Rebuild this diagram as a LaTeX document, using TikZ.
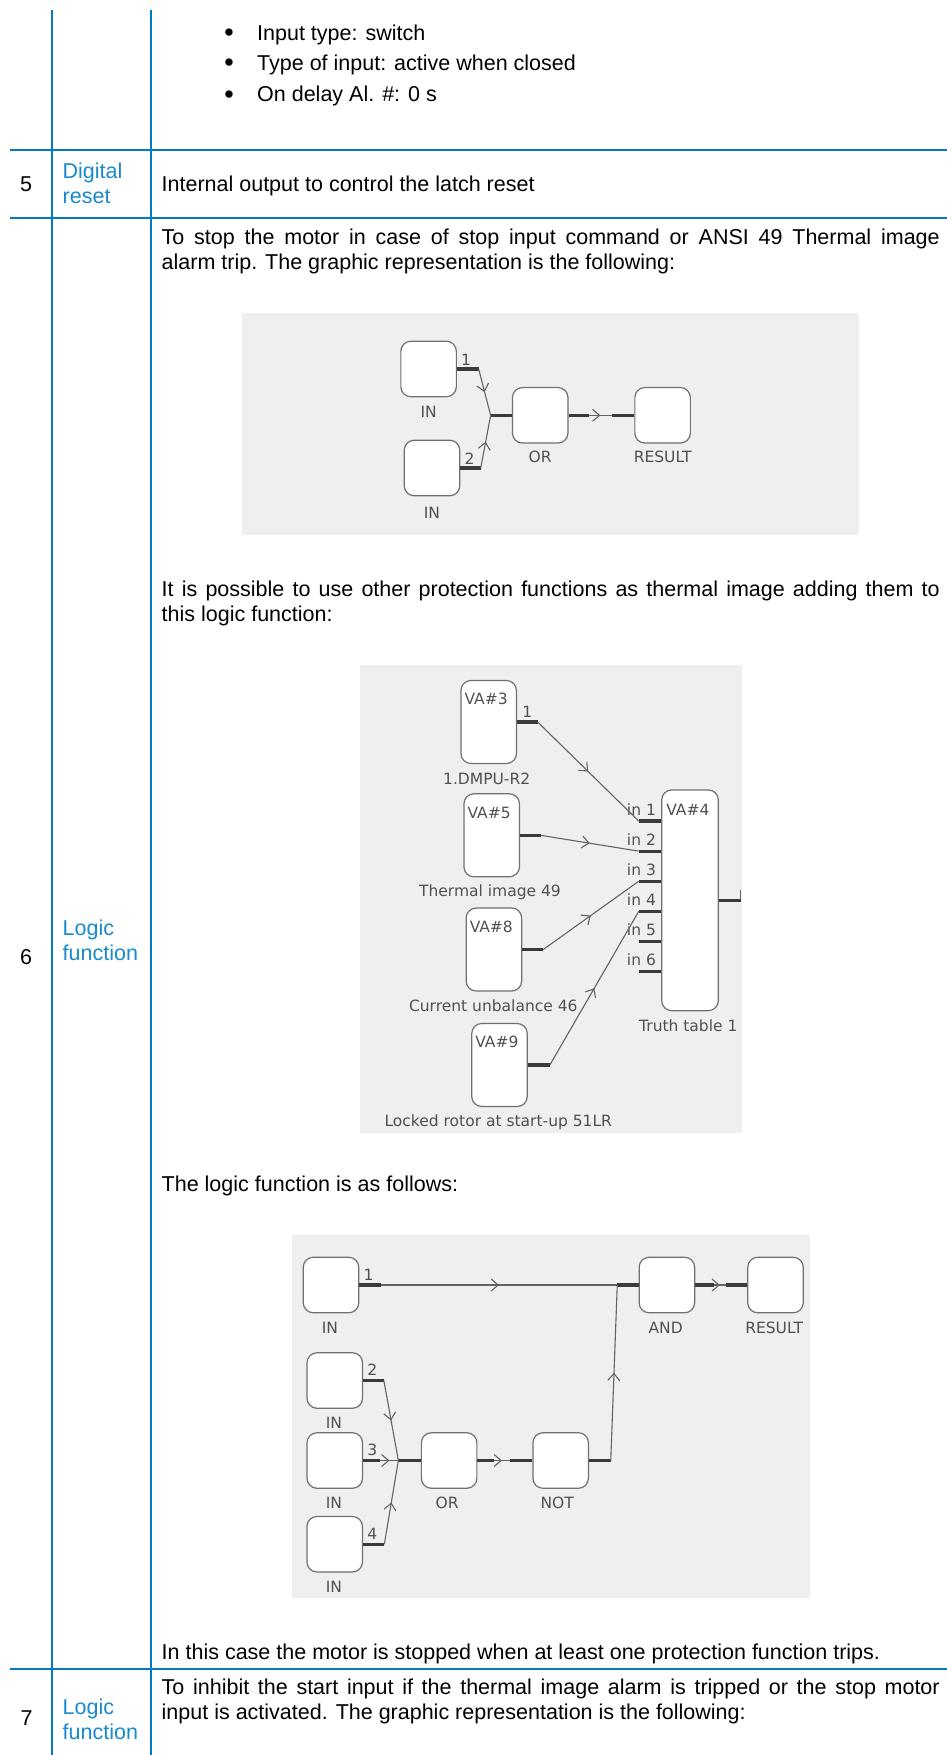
\documentclass[tikz,border=0pt]{standalone}
\usepackage{fontspec}
\setmainfont{Liberation Sans}
\newfontfamily\dejavu{DejaVu Sans}
\usepackage{xcolor}
\usetikzlibrary{arrows.meta,calc,decorations.markings}

\definecolor{tblue}{RGB}{0,122,192}
\definecolor{lblue}{RGB}{24,138,204}
\definecolor{panelgrey}{RGB}{239,239,239}
\definecolor{boxline}{RGB}{112,112,112}
\definecolor{stubgrey}{RGB}{58,58,58}
\definecolor{wiregrey}{RGB}{100,100,100}
\definecolor{capgrey}{RGB}{80,80,80}

\begin{document}
\begin{tikzpicture}[x=1pt, y=-1pt,
  tline/.style={draw=tblue, line width=2pt},
  body/.style={font=\fontsize{21.5}{25}\selectfont, inner sep=0pt, anchor=base west},
  para/.style={body, text width=778pt, align=justify},
  rowlbl/.style={body, text=lblue, text width=85pt, align=left},
  rownum/.style={font=\fontsize{21.5}{25}\selectfont, inner sep=0pt, anchor=base},
  dot/.style={body, anchor=base, font=\fontsize{27}{27}\selectfont},
  panel/.style={fill=panelgrey},
  blk/.style={draw=boxline, fill=white, rounded corners=10pt, line width=1.2pt, inner sep=0pt, minimum width=55.5pt, minimum height=55.5pt},
  vablk/.style={blk, minimum height=83pt},
  lbl/.style={font=\dejavu\fontsize{15.5}{17}\selectfont, text=capgrey, inner sep=0pt, anchor=base},
  numlbl/.style={lbl, anchor=base west},
  stub/.style={draw=stubgrey, line width=3.2pt},
  midarr/.style={decoration={markings, mark=at position 0.5 with {\arrow{Straight Barb[length=7pt,width=12pt]}}}, postaction={decorate}},
  wire/.style={draw=wiregrey, line width=1.1pt, midarr}
]
\useasboundingbox (0,0) rectangle (947,1755);

% table rules
\draw[tline] (51.7,10) -- (51.7,1755);
\draw[tline] (151,10) -- (151,1755);
\draw[tline] (10,150) -- (947,150);
\draw[tline] (10,218.3) -- (947,218.3);
\draw[tline] (10,1669) -- (947,1669);

% row 4 (end)
\node[dot] (b1) at (229,42) {•};
\node[body] (t1) at (257,40.5) {Input type: switch};
\node[dot] (b2) at (229,72) {•};
\node[body] (t2) at (257,70.5) {Type of input: active when closed};
\node[dot] (b3) at (229,103.5) {•};
\node[body] (t3) at (257,102) {On delay Al. \#: 0 s};

% row 5
\node[rownum] (n5) at (26,192) {5};
\node[rowlbl] (l5) at (62.5,178.5) {Digital\\reset};
\node[body] (t5) at (161.5,192) {Internal output to control the latch reset};

% row 6
\node[rownum] (n6) at (26,964) {6};
\node[rowlbl] (l6) at (62.5,935) {Logic\\function};
\node[para] (p6a) at (161.5,244) {To stop the motor in case of stop input command or ANSI 49 Thermal image\linebreak alarm trip. The graphic representation is the following:};
\node[para] (p6b) at (161.5,596) {It is possible to use other protection functions as thermal image adding them to\linebreak this logic function:};
\node[body] (p6c) at (161.5,1191) {The logic function is as follows:};
\node[body] (p6d) at (161.5,1659) {In this case the motor is stopped when at least one protection function trips.};

% diagram 1: OR of two inputs
\fill[panel] (242,313) rectangle (859,535);
\node[blk] (in1) at (428.6,369) {};
\node[blk] (in2) at (432,468) {};
\node[blk] (or1) at (540.2,415.3) {};
\node[blk] (res1) at (662.6,415.3) {};
\node[lbl] (in1c) at ($(in1.south)+(0,20)$) {IN};
\node[lbl] (in2c) at ($(in2.south)+(0,22)$) {IN};
\node[lbl] (or1c) at ($(or1.south)+(0,19)$) {OR};
\node[lbl] (res1c) at ($(res1.south)+(0,19)$) {RESULT};
\node[numlbl] (in1n) at ($(in1.east)+(4,-4)$) {1};
\node[numlbl] (in2n) at ($(in2.east)+(4,-4)$) {2};
\draw[stub] (in1.east) -- ++(21.7,0) coordinate (in1o);
\draw[stub] (in2.east) -- ++(20.4,0) coordinate (in2o);
\draw[stub] (or1.west) -- ++(-21.2,0) coordinate (j1);
\draw[stub] (or1.east) -- ++(20.4,0) coordinate (or1o);
\draw[stub] (res1.west) -- ++(-22.4,0) coordinate (res1i);
\draw[wire] (in1o) -- (j1);
\draw[wire] (in2o) -- (j1);
\draw[wire] (or1o) -- (res1i);

% diagram 2: truth table
\fill[panel] (360,665) rectangle (742,1133);
\node[vablk] (va3) at (488.7,722) {};
\node[vablk] (va5) at (491.7,835.3) {};
\node[vablk] (va8) at (493.9,949.5) {};
\node[vablk] (va9) at (499.5,1065) {};
\node[blk, minimum height=220.7pt, minimum width=56.6pt] (va4) at (690,900.3) {};
\node[numlbl] (va3t) at ($(va3.north west)+(4,25)$) {VA\#3};
\node[numlbl] (va5t) at ($(va5.north west)+(4,25)$) {VA\#5};
\node[numlbl] (va8t) at ($(va8.north west)+(4,25)$) {VA\#8};
\node[numlbl] (va9t) at ($(va9.north west)+(4,25)$) {VA\#9};
\node[numlbl] (va4t) at ($(va4.north west)+(5,25.7)$) {VA\#4};
\node[numlbl] (va3n) at ($(va3.east)+(5,-5)$) {1};
\node[lbl] (va3c) at ($(va3.south)+(-2,20.7)$) {1.DMPU-R2};
\node[lbl] (va5c) at ($(va5.south)+(-1.7,19)$) {Thermal image 49};
\node[lbl] (va8c) at ($(va8.south)+(-0.6,19.5)$) {Current unbalance 46};
\node[lbl] (va9c) at ($(va9.south)+(-1.2,19.5)$) {Locked rotor at start-up 51LR};
\node[lbl] (va4c) at ($(va4.south)+(-1.7,20.7)$) {Truth table 1};
\draw[stub] ($(va4.north west)+(0,31.7)$) -- ++(-22.4,0) coordinate (vin1);
\draw[stub] ($(va4.north west)+(0,61.8)$) -- ++(-22.4,0) coordinate (vin2);
\draw[stub] ($(va4.north west)+(0,91.9)$) -- ++(-22.4,0) coordinate (vin3);
\draw[stub] ($(va4.north west)+(0,122)$) -- ++(-22.4,0) coordinate (vin4);
\draw[stub] ($(va4.north west)+(0,152.1)$) -- ++(-22.4,0) coordinate (vin5);
\draw[stub] ($(va4.north west)+(0,182.2)$) -- ++(-22.4,0) coordinate (vin6);
\node[lbl, anchor=base east] (vin1t) at ($(va4.north west)+(-5,25.7)$) {in 1};
\node[lbl, anchor=base east] (vin2t) at ($(va4.north west)+(-5,55.8)$) {in 2};
\node[lbl, anchor=base east] (vin3t) at ($(va4.north west)+(-5,85.9)$) {in 3};
\node[lbl, anchor=base east] (vin4t) at ($(va4.north west)+(-5,116)$) {in 4};
\node[lbl, anchor=base east] (vin5t) at ($(va4.north west)+(-5,146.1)$) {in 5};
\node[lbl, anchor=base east] (vin6t) at ($(va4.north west)+(-5,176.2)$) {in 6};
\draw[stub] (va3.east) -- ++(20.6,0) coordinate (va3o);
\draw[stub] (va5.east) -- ++(20.7,0) coordinate (va5o);
\draw[stub] (va8.east) -- ++(21,0) coordinate (va8o);
\draw[stub] (va9.east) -- ++(22,0) coordinate (va9o);
\draw[stub] (va4.east) -- ++(21.7,0) coordinate (va4o);
\draw[draw=wiregrey, line width=1.1pt] (va4o) -- ++(0,-10) coordinate (va4up);
\draw[wire] (va3o) -- (vin1);
\draw[wire] (va5o) -- (vin2);
\draw[wire] (va8o) -- (vin3);
\draw[wire] (va9o) -- (vin4);

% diagram 3: AND with inverted OR
\fill[panel] (292,1235) rectangle (810,1598);
\node[blk] (i1) at (331,1285) {};
\node[blk] (and3) at (666.9,1285) {};
\node[blk] (res3) at (775.5,1285) {};
\node[blk] (i2) at (334.8,1380.5) {};
\node[blk] (i3) at (334.8,1460.5) {};
\node[blk] (or3) at (449.1,1460.5) {};
\node[blk] (not3) at (560.7,1460.5) {};
\node[blk] (i4) at (334.7,1544.2) {};
\node[lbl] (i1c) at ($(i1.south)+(-1,20.3)$) {IN};
\node[lbl] (and3c) at ($(and3.south)+(-1.2,20.3)$) {AND};
\node[lbl] (res3c) at ($(res3.south)+(-1.4,20.3)$) {RESULT};
\node[lbl] (i2c) at ($(i2.south)+(-0.8,20)$) {IN};
\node[lbl] (i3c) at ($(i3.south)+(-0.8,20)$) {IN};
\node[lbl] (or3c) at ($(or3.south)+(-2,20)$) {OR};
\node[lbl] (not3c) at ($(not3.south)+(-3.5,20)$) {NOT};
\node[lbl] (i4c) at ($(i4.south)+(-0.7,20)$) {IN};
\node[numlbl] (i1n) at ($(i1.east)+(4,-5)$) {1};
\node[numlbl] (i2n) at ($(i2.east)+(4,-5)$) {2};
\node[numlbl] (i3n) at ($(i3.east)+(4,-5)$) {3};
\node[numlbl] (i4n) at ($(i4.east)+(4,-5)$) {4};
\draw[stub] (i1.east) -- ++(21.4,0) coordinate (i1o);
\draw[stub] (and3.west) -- ++(-21.3,0) coordinate (ja);
\draw[stub] (and3.east) -- ++(18.9,0) coordinate (and3o);
\draw[stub] (res3.west) -- ++(-21.6,0) coordinate (res3i);
\draw[stub] (i2.east) -- ++(20.7,0) coordinate (i2o);
\draw[stub] (i3.east) -- ++(17.3,0) coordinate (i3o);
\draw[stub] (i4.east) -- ++(21.3,0) coordinate (i4o);
\draw[stub] (or3.west) -- ++(-22.4,0) coordinate (jo);
\draw[stub] (or3.east) -- ++(16.5,0) coordinate (or3o);
\draw[stub] (not3.west) -- ++(-22.4,0) coordinate (not3i);
\draw[stub] (not3.east) -- ++(21.7,0) coordinate (not3o);
\draw[wire] (i1o) -- (ja);
\draw[wire] (and3o) -- (res3i);
\draw[wire] (i2o) -- (jo);
\draw[wire] (i3o) -- (jo);
\draw[wire] (i4o) -- (jo);
\draw[wire] (or3o) -- (not3i);
\draw[wire] (not3o) -- (ja);

% row 7
\node[rownum] (n7) at (26.5,1725.5) {7};
\node[rowlbl] (l7) at (62.5,1714) {Logic\\function};
\node[para] (p7) at (161.5,1694.5) {To inhibit the start input if the thermal image alarm is tripped or the stop motor\linebreak input is activated. The graphic representation is the following:};
\end{tikzpicture}
\end{document}
